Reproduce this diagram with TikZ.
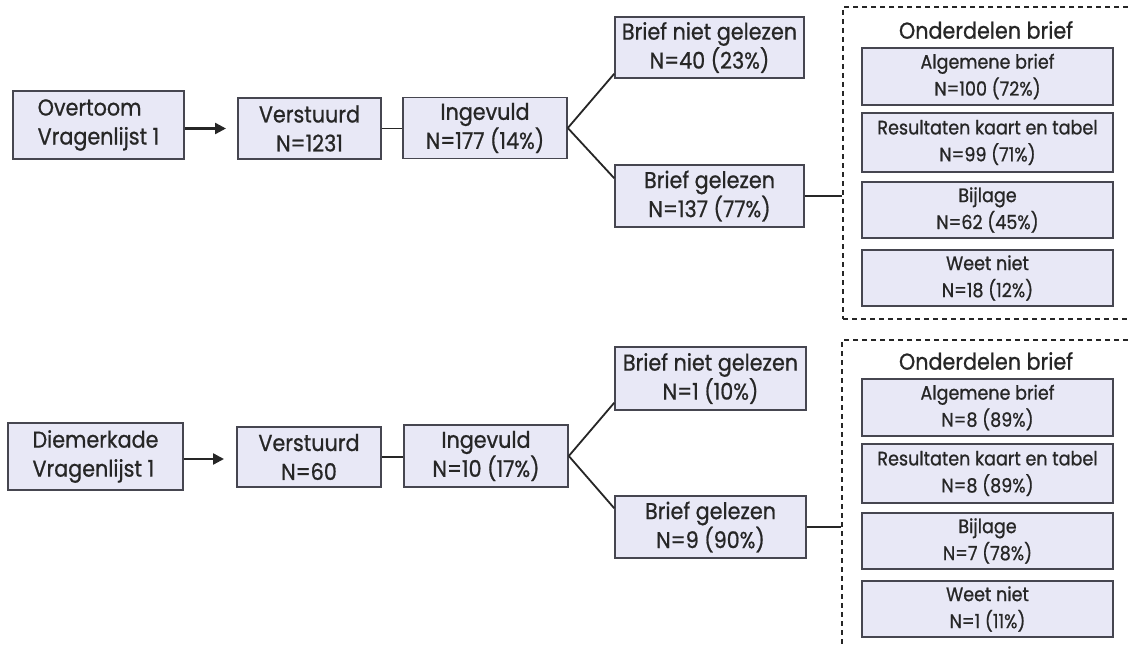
\documentclass[tikz,border=0pt]{standalone}
\usepackage{fontspec}
\setmainfont[FakeStretch=0.9, FakeBold=0.8]{Poppins}
\usetikzlibrary{calc,arrows.meta}
\definecolor{boxfill}{RGB}{232,232,246}
\definecolor{boxline}{RGB}{70,70,80}
\begin{document}
\begin{tikzpicture}[x=1pt,y=-1pt,
  box/.style={draw=boxline, fill=boxfill, line width=1.6pt, align=center, inner sep=0pt,
    text=black!85, font=\fontsize{23}{29}\selectfont},
  sbox/.style={box, minimum width=251pt, font=\fontsize{19.5}{27}\selectfont},
  ttl/.style={inner sep=0pt, text=black!85, font=\fontsize{23}{26}\selectfont},
  conn/.style={line width=1.8pt, draw=black!85},
  arr/.style={conn, line width=2.4pt, -{Triangle[length=11pt,width=11pt]}},
  dbox/.style={draw=black!85, dash pattern=on 5pt off 4pt, line width=1.5pt, inner sep=0pt}]
\useasboundingbox (0,0) rectangle (1128,645);
\fill[white] (0,0) rectangle (1128,645);
\clip (0,0) rectangle (1128,645);

% ---------- top row ----------
\node[box, align=left, minimum width=171pt, minimum height=68pt] (ov) at (98.5,125) {Overtoom\\Vragenlijst 1};
\node[box, minimum width=143pt, minimum height=61pt] (v1) at (309.5,128.5) {Verstuurd\\N=1231};
\node[box, minimum width=164pt, minimum height=61pt] (i1) at (485,128) {Ingevuld\\N=177 (14\%)};
\node[box, minimum width=189pt, minimum height=61pt] (bn1) at (709.5,47.5) {Brief niet gelezen\\N=40 (23\%)};
\node[box, minimum width=189pt, minimum height=62pt] (bg1) at (709.5,196) {Brief gelezen\\N=137 (77\%)};
\node[dbox, minimum width=297pt, minimum height=312pt] (g1) at (991.5,163) {};
\node[ttl] (t1) at (986,30) {Onderdelen brief};
\node[sbox, minimum height=57pt] (a1) at (987.5,76.5) {Algemene brief\\N=100 (72\%)};
\node[sbox, minimum height=59pt] (r1) at (987.5,142.5) {Resultaten kaart en tabel\\N=99 (71\%)};
\node[sbox, minimum height=56pt] (b1) at (987.5,210) {Bijlage\\N=62 (45\%)};
\node[sbox, minimum height=56pt] (w1) at (987.5,278) {Weet niet\\N=18 (12\%)};
\coordinate (e1) at (226,128.5);

\draw[arr] (ov.east |- e1) -- (e1);
\draw[conn] (v1.east) -- (v1.east -| i1.west);
\draw[conn] (i1.east) -- ($(bn1.south west)+(0,-5)$);
\draw[conn] (i1.east) -- ($(bg1.north west)+(0,14)$);
\draw[conn] (bg1.east) -- (bg1.east -| g1.west);

% ---------- bottom row ----------
\node[box, align=left, minimum width=175pt, minimum height=67pt] (dk) at (95.5,456.5) {Diemerkade\\Vragenlijst 1};
\node[box, minimum width=144pt, minimum height=60pt] (v2) at (309,457) {Verstuurd\\N=60};
\node[box, minimum width=164pt, minimum height=62pt] (i2) at (486,456) {Ingevuld\\N=10 (17\%)};
\node[box, minimum width=191pt, minimum height=63pt] (bn2) at (710.5,378.5) {Brief niet gelezen\\N=1 (10\%)};
\node[box, minimum width=191pt, minimum height=62pt] (bg2) at (710.5,527) {Brief gelezen\\N=9 (90\%)};
\node[dbox, minimum width=298pt, minimum height=320pt] (g2) at (991,500) {};
\node[ttl] (t2) at (986,361) {Onderdelen brief};
\node[sbox, minimum height=57pt] (a2) at (987.5,407.5) {Algemene brief\\N=8 (89\%)};
\node[sbox, minimum height=59pt] (r2) at (987.5,473.5) {Resultaten kaart en tabel\\N=8 (89\%)};
\node[sbox, minimum height=56pt] (b2) at (987.5,541) {Bijlage\\N=7 (78\%)};
\node[sbox, minimum height=56pt] (w2) at (987.5,609) {Weet niet\\N=1 (11\%)};
\coordinate (e2) at (224,459);

\draw[arr] (dk.east |- e2) -- (e2);
\draw[conn] (v2.east) -- (v2.east -| i2.west);
\draw[conn] (i2.east) -- ($(bn2.south west)+(0,-8)$);
\draw[conn] (i2.east) -- ($(bg2.north west)+(0,13)$);
\draw[conn] (bg2.east) -- (bg2.east -| g2.west);
\end{tikzpicture}
\end{document}
